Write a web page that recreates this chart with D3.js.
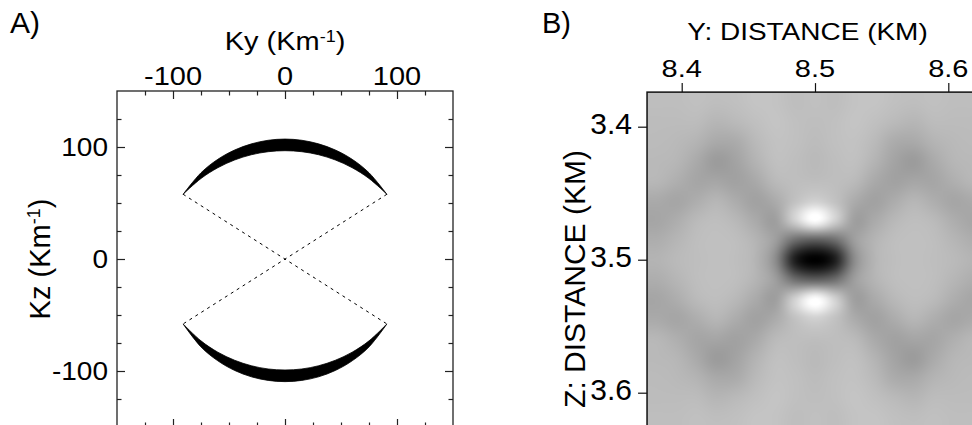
<!DOCTYPE html>
<html>
<head>
<meta charset="utf-8">
<script src="https://cdn.jsdelivr.net/npm/d3@7"></script>
<style>
  html, body { margin: 0; padding: 0; background: #fff; }
  svg { display: block; }
  text { font-family: Arial, "Liberation Sans", sans-serif; fill: #000; }
</style>
</head>
<body>
<svg id="chart" width="972" height="425"></svg>
<script>
// ---- panel A: wavenumber coverage ----
const kyMajor = [-100, 0, 100];
const kzMajor = [100, 0, -100];
const kMinor = [-125, -75, -50, -25, 25, 50, 75, 125];

const crescentKy = [-91, -75, -60, -45, -30, -15, 0, 15, 30, 45, 60, 75, 91];
const upperOuterKz = [57.7, 77.0, 89.0, 97.3, 102.8, 106.0, 107.1, 106.0, 102.8, 97.3, 89.0, 77.0, 57.7];
const upperInnerKz = [57.8, 71.9, 81.5, 88.4, 93.1, 95.8, 96.7, 95.8, 93.1, 88.4, 81.5, 71.9, 57.8];
const lowerOuterKz = [-58.0, -78.5, -90.9, -99.5, -105.2, -108.4, -109.5, -108.4, -105.2, -99.5, -90.9, -78.5, -58.0];
const lowerInnerKz = [-58.0, -73.1, -83.2, -90.4, -95.3, -98.2, -99.1, -98.2, -95.3, -90.4, -83.2, -73.1, -58.0];

// dotted lines joining the crescent tips through the origin
const dashFrom = [[-91, 57.8], [91, 57.8]];
const dashTo = [[91, -58.0], [-91, -58.0]];

// ---- panel B: grey image (Y across, Z down), values 0 = black, 255 = white ----
const yTicks = [8.4, 8.5, 8.6];
const zTicks = [3.4, 3.5, 3.6];
const yExtent = [8.374, 8.626];
const zExtent = [3.374, 3.626];
const imgRows = [
  [190,190,192,190,192,196,195,190,192,190,195,196,192,190,192,190,190],
  [188,188,188,182,186,192,196,192,190,192,196,192,186,182,188,188,188],
  [187,185,180,170,172,186,194,192,188,192,194,186,172,170,180,185,187],
  [185,182,170,156,164,180,192,190,186,190,192,180,164,156,170,182,185],
  [183,175,166,166,162,170,186,190,190,190,186,170,162,166,166,175,183],
  [170,166,174,182,172,162,172,194,208,194,172,162,172,182,174,166,170],
  [166,174,186,190,184,170,160,210,255,210,160,170,184,190,186,174,166],
  [174,182,190,192,190,180,158,110, 95,110,158,180,190,192,190,182,174],
  [180,186,190,192,190,180,140, 30,  0, 30,140,180,190,192,190,186,180],
  [174,182,190,192,190,180,158,110, 95,110,158,180,190,192,190,182,174],
  [166,174,186,190,184,170,160,210,255,210,160,170,184,190,186,174,166],
  [170,166,174,182,172,162,172,194,208,194,172,162,172,182,174,166,170],
  [183,175,166,166,162,170,186,190,190,190,186,170,162,166,166,175,183],
  [185,182,170,156,164,180,192,190,186,190,192,180,164,156,170,182,185],
  [187,185,180,170,172,186,194,192,188,192,194,186,172,170,180,185,187],
  [188,188,188,182,186,192,196,192,190,192,196,192,186,182,188,188,188],
  [190,190,192,190,192,196,195,190,192,190,195,196,192,190,192,190,190]
];

const svg = d3.select("#chart");

// text squeezed vertically like the original lettering
function label(g, x, y, str, size, sy, anchor) {
  return g.append("text")
    .attr("transform", `translate(${x},${y}) scale(1,${sy})`)
    .attr("text-anchor", anchor)
    .style("font-size", size + "px")
    .text(str);
}

// ================= Panel A =================
const xA = d3.scaleLinear().domain([-150, 150]).range([117, 453]);
const yA = d3.scaleLinear().domain([-150, 150]).range([427, 91]);
const gA = svg.append("g");

function crescent(outer, inner) {
  const line = d3.line()
    .x((d, i) => xA(crescentKy[i]))
    .y(d => yA(d))
    .curve(d3.curveCatmullRom);
  const a = line(outer);
  const innerRev = inner.slice().reverse();
  const lineRev = d3.line()
    .x((d, i) => xA(crescentKy[crescentKy.length - 1 - i]))
    .y(d => yA(d))
    .curve(d3.curveCatmullRom);
  const b = lineRev(innerRev).replace(/^M/, "L");
  return a + b + "Z";
}

gA.append("path").attr("d", crescent(upperOuterKz, upperInnerKz))
  .attr("fill", "#000").attr("stroke", "#000").attr("stroke-width", 0.8);
gA.append("path").attr("d", crescent(lowerOuterKz, lowerInnerKz))
  .attr("fill", "#000").attr("stroke", "#000").attr("stroke-width", 0.8);

gA.selectAll("line.dash").data(d3.range(dashFrom.length)).join("line")
  .attr("class", "dash")
  .attr("x1", i => xA(dashFrom[i][0])).attr("y1", i => yA(dashFrom[i][1]))
  .attr("x2", i => xA(dashTo[i][0])).attr("y2", i => yA(dashTo[i][1]))
  .attr("stroke", "#000").attr("stroke-width", 1)
  .attr("stroke-dasharray", "3,4");

// ticks on all four sides, pointing inward
function ticksA(axisFn, scale, vals, size, transform) {
  const g = gA.append("g").attr("transform", transform)
    .call(axisFn(scale).tickValues(vals).tickSize(-size).tickFormat(""));
  g.select(".domain").remove();
  g.selectAll(".tick line").attr("stroke", "#222").attr("stroke-width", 1.2);
}
ticksA(d3.axisTop, xA, kMinor, 4.5, "translate(0,91)");
ticksA(d3.axisTop, xA, kyMajor, 8, "translate(0,91)");
ticksA(d3.axisBottom, xA, kMinor, 4.5, "translate(0,427)");
ticksA(d3.axisBottom, xA, kyMajor, 8, "translate(0,427)");
ticksA(d3.axisLeft, yA, kMinor, 4.5, "translate(117,0)");
ticksA(d3.axisLeft, yA, kzMajor, 8, "translate(117,0)");
ticksA(d3.axisRight, yA, kMinor, 4.5, "translate(453,0)");
ticksA(d3.axisRight, yA, kzMajor, 8, "translate(453,0)");

gA.append("rect").attr("x", 117).attr("y", 91).attr("width", 336).attr("height", 336)
  .attr("fill", "none").attr("stroke", "#222").attr("stroke-width", 1.3);

kyMajor.forEach(v => label(gA, xA(v), 85, String(v), 29, 0.88, "middle"));
kzMajor.forEach(v => label(gA, 108, yA(v) + 8.8, String(v), 28, 0.95, "end"));

const kyTitle = label(gA, 285, 50, "Ky (Km", 29, 0.88, "middle");
kyTitle.append("tspan").attr("dy", -9).style("font-size", "18px").text("-1");
kyTitle.append("tspan").attr("dy", 9).text(")");

const kzTitle = gA.append("text")
  .attr("transform", "translate(50,259) rotate(-90)")
  .attr("text-anchor", "middle").style("font-size", "29px").text("Kz (Km");
kzTitle.append("tspan").attr("dy", -10).style("font-size", "18px").text("-1");
kzTitle.append("tspan").attr("dy", 10).text(")");

label(svg, 10, 33, "A)", 30, 1, "start");

// ================= Panel B =================
const xB = d3.scaleLinear().domain([8.4, 8.6]).range([681.7, 948.3]);
const yB = d3.scaleLinear().domain([3.4, 3.6]).range([126.7, 392.7]);
const gB = svg.append("g");
const grey = d3.scaleLinear().domain([0, 255]).range(["#000000", "#ffffff"]).clamp(true);

const imgX = xB(yExtent[0]), imgY = yB(zExtent[0]);
const imgW = xB(yExtent[1]) - imgX, imgH = yB(zExtent[1]) - imgY;

// resample the grid smoothly (cubic convolution) for display
const nR = imgRows.length, nC = imgRows[0].length;
const W = Math.round(imgW), H = Math.round(imgH);
function cubicW(t) {
  t = Math.abs(t);
  if (t <= 1) return 1.5 * t * t * t - 2.5 * t * t + 1;
  if (t < 2) return -0.5 * t * t * t + 2.5 * t * t - 4 * t + 2;
  return 0;
}
const cv = document.createElement("canvas");
cv.width = W; cv.height = H;
const ctx = cv.getContext("2d");
const im = ctx.createImageData(W, H);
for (let py = 0; py < H; py++) {
  const gy = (py + 0.5) / H * nR - 0.5, y0 = Math.floor(gy);
  for (let px = 0; px < W; px++) {
    const gx = (px + 0.5) / W * nC - 0.5, x0 = Math.floor(gx);
    let s = 0;
    for (let j = y0 - 1; j <= y0 + 2; j++) {
      const wy = cubicW(gy - j), rj = Math.min(nR - 1, Math.max(0, j));
      for (let i = x0 - 1; i <= x0 + 2; i++) {
        const ci = Math.min(nC - 1, Math.max(0, i));
        s += wy * cubicW(gx - i) * imgRows[rj][ci];
      }
    }
    const col = d3.rgb(grey(s));
    const k = (py * W + px) * 4;
    im.data[k] = col.r; im.data[k + 1] = col.g; im.data[k + 2] = col.b; im.data[k + 3] = 255;
  }
}
ctx.putImageData(im, 0, 0);

gB.append("image")
  .attr("href", cv.toDataURL())
  .attr("x", imgX).attr("y", imgY)
  .attr("width", imgW).attr("height", imgH)
  .attr("preserveAspectRatio", "none");

const topB = gB.append("g").attr("transform", `translate(0,${imgY})`)
  .call(d3.axisTop(xB).tickValues(yTicks).tickSize(9).tickFormat(""));
const leftB = gB.append("g").attr("transform", `translate(${imgX},0)`)
  .call(d3.axisLeft(yB).tickValues(zTicks).tickSize(9).tickFormat(""));
[topB, leftB].forEach(g => {
  g.select(".domain").remove();
  g.selectAll(".tick line").attr("stroke", "#111").attr("stroke-width", 1.2);
});

gB.append("rect")
  .attr("x", imgX).attr("y", imgY).attr("width", imgW).attr("height", imgH)
  .attr("fill", "none").attr("stroke", "#111").attr("stroke-width", 1.5);

yTicks.forEach(v => label(gB, xB(v), 77, v.toFixed(1), 29, 0.85, "middle"));
zTicks.forEach(v => label(gB, 632, yB(v) + 7.5, v.toFixed(1), 30, 1, "end"));

label(gB, 807.5, 40, "Y: DISTANCE (KM)", 28, 0.88, "middle");
gB.append("text")
  .attr("transform", "translate(585,279) rotate(-90)")
  .attr("text-anchor", "middle").style("font-size", "30px")
  .text("Z: DISTANCE (KM)");

label(svg, 542, 33, "B)", 29, 1, "start");
</script>
</body>
</html>
